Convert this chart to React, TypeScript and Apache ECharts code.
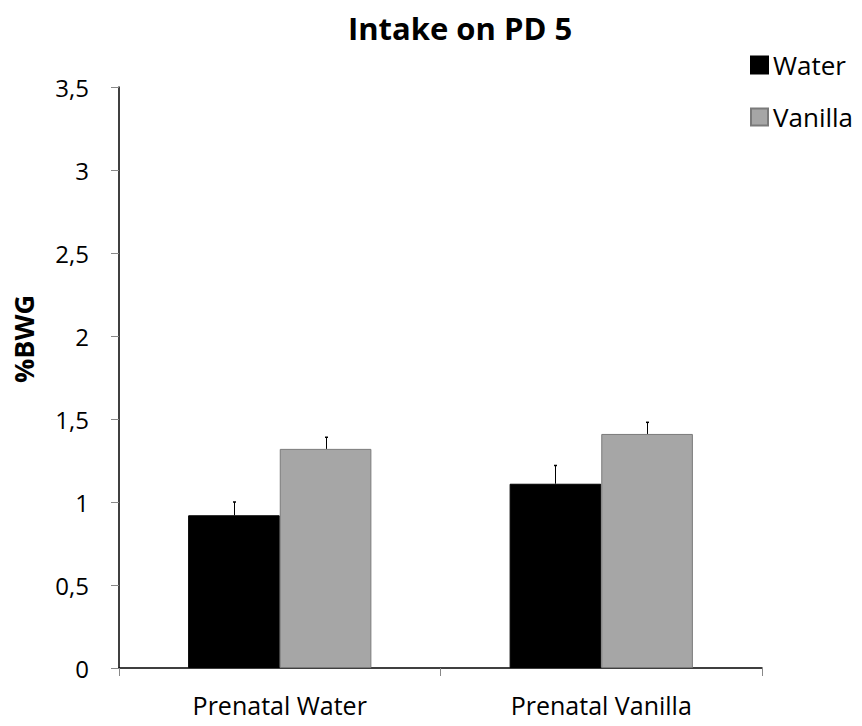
import React, { useEffect, useRef } from "react";
import * as echarts from "echarts";

const categories = ["Prenatal Water", "Prenatal Vanilla"];
const waterValues = [0.92, 1.11];
const vanillaValues = [1.32, 1.41];
const waterErrTop = [1.0, 1.22];
const vanillaErrTop = [1.39, 1.48];
const yTicks = [0, 0.5, 1, 1.5, 2, 2.5, 3, 3.5];

const FONT = "'Open Sans', 'Noto Sans', sans-serif";
const BAR_FRAC = 0.285;

function errRender(offsetSign: number) {
  return (params: any, api: any) => {
    const ci = api.value(0);
    const base = api.value(1);
    const top = api.value(2);
    const catW = api.size([1, 0])[0];
    const bw = catW * BAR_FRAC;
    const p0 = api.coord([ci, base]);
    const p1 = api.coord([ci, top]);
    const x = Math.round(p0[0] + (offsetSign * bw) / 2) + 0.5;
    return {
      type: "group",
      children: [
        {
          type: "line",
          shape: { x1: x, y1: p0[1], x2: x, y2: p1[1] },
          style: { stroke: "#000", lineWidth: 1 },
        },
        {
          type: "line",
          shape: { x1: x - 1.5, y1: p1[1], x2: x + 1.5, y2: p1[1] },
          style: { stroke: "#000", lineWidth: 1.5 },
        },
      ],
    };
  };
}

export default function App() {
  const ref = useRef<HTMLDivElement>(null);
  useEffect(() => {
    document.body.style.margin = "0";
    if (!ref.current) return;
    const chart = echarts.init(ref.current, null, { renderer: "svg" });
    chart.setOption({
      animation: false,
      backgroundColor: "#fff",
      title: {
        text: "Intake on PD 5",
        left: 455,
        top: 7,
        textAlign: "center",
        textStyle: { fontFamily: FONT, fontSize: 31, fontWeight: "bold", color: "#000" },
      },
      legend: {
        orient: "vertical",
        left: 745,
        top: 46,
        itemWidth: 17,
        itemHeight: 17,
        itemGap: 24,
        icon: "rect",
        textStyle: { fontFamily: FONT, fontSize: 26, color: "#000", lineHeight: 28 },
        data: ["Water", "Vanilla"],
      },
      graphic: [
        {
          type: "text",
          x: 23,
          y: 339,
          rotation: Math.PI / 2,
          style: {
            text: "%BWG",
            font: `bold 27px ${FONT}`,
            fill: "#000",
            textAlign: "center",
            textVerticalAlign: "middle",
          },
        },
      ],
      grid: { left: 119, right: 100, top: 87, bottom: 58, containLabel: false },
      xAxis: {
        type: "category",
        data: categories,
        axisLine: { lineStyle: { color: "#000", width: 1.5 } },
        axisTick: { show: true, length: 8, lineStyle: { color: "#888" } },
        axisLabel: { fontFamily: FONT, fontSize: 25, color: "#000", margin: 24 },
      },
      yAxis: {
        type: "value",
        min: 0,
        max: 3.5,
        interval: 0.5,
        splitLine: { show: false },
        axisLine: { show: true, lineStyle: { color: "#000", width: 1.5 } },
        axisTick: { show: true, length: 8, lineStyle: { color: "#888" } },
        axisLabel: {
          fontFamily: FONT,
          fontSize: 24,
          color: "#000",
          margin: 30,
          formatter: (v: number) => (yTicks.includes(v) ? String(v).replace(".", ",") : ""),
        },
      },
      series: [
        {
          name: "Water",
          type: "bar",
          data: waterValues,
          barWidth: BAR_FRAC * 100 + "%",
          barGap: "0%",
          itemStyle: { color: "#000", borderColor: "#000", borderWidth: 1 },
        },
        {
          name: "Vanilla",
          type: "bar",
          data: vanillaValues,
          barWidth: BAR_FRAC * 100 + "%",
          barGap: "0%",
          itemStyle: { color: "#a6a6a6", borderColor: "#7a7a7a", borderWidth: 1 },
        },
        {
          type: "custom",
          renderItem: errRender(-1),
          data: waterValues.map((v, i) => [i, v, waterErrTop[i]]),
          encode: { x: 0, y: [1, 2] },
          z: 5,
          silent: true,
        },
        {
          type: "custom",
          renderItem: errRender(1),
          data: vanillaValues.map((v, i) => [i, v, vanillaErrTop[i]]),
          encode: { x: 0, y: [1, 2] },
          z: 5,
          silent: true,
        },
      ],
    });
    return () => chart.dispose();
  }, []);
  return <div ref={ref} style={{ width: 862, height: 726 }} />;
}
